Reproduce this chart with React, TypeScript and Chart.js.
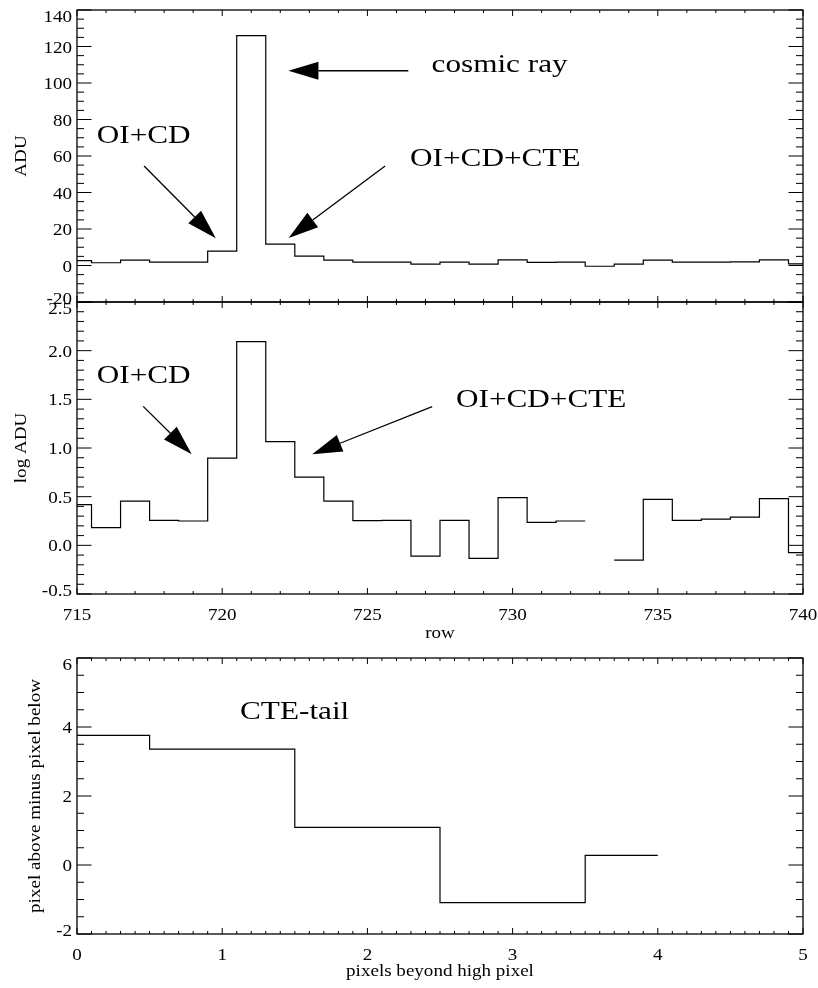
import React, { useEffect, useRef } from "react";
import { Chart, registerables } from "chart.js";

Chart.register(...registerables);

// ---------- data ----------
const rows = [715, 716, 717, 718, 719, 720, 721, 722, 723, 724, 725, 726, 727, 728, 729, 730, 731, 732, 733, 734, 735, 736, 737, 738, 739, 740];
const aduValues = [2.7, 1.5, 2.9, 1.8, 1.8, 7.9, 126, 11.7, 5.1, 2.9, 1.8, 1.8, 0.8, 1.8, 0.75, 3.1, 1.75, 1.8, -0.4, 0.72, 3.0, 1.84, 1.9, 2.0, 3.05, 0.84];
const logAduValues: (number | null)[] = [0.418, 0.182, 0.455, 0.257, 0.25, 0.897, 2.093, 1.065, 0.7, 0.455, 0.254, 0.257, -0.11, 0.257, -0.134, 0.49, 0.236, 0.25, null, -0.151, 0.473, 0.257, 0.27, 0.29, 0.48, -0.075];
const tailPixels = [0, 1, 2, 3, 4];
const tailDiffs = [3.76, 3.36, 1.09, -1.09, 0.28];

const rowTicks = [715, 720, 725, 730, 735, 740];
const rowTickLabels = ["715", "720", "725", "730", "735", "740"];
const aduTicks = [-20, 0, 20, 40, 60, 80, 100, 120, 140];
const aduTickLabels = ["-20", "0", "20", "40", "60", "80", "100", "120", "140"];
const logAduTicks = [-0.5, 0, 0.5, 1, 1.5, 2, 2.5];
const logAduTickLabels = ["-0.5", "0.0", "0.5", "1.0", "1.5", "2.0", "2.5"];
const tailXTicks = [0, 1, 2, 3, 4, 5];
const tailXTickLabels = ["0", "1", "2", "3", "4", "5"];
const tailYTicks = [-2, 0, 2, 4, 6];
const tailYTickLabels = ["-2", "0", "2", "4", "6"];

const FONT = '"Liberation Serif", "Times New Roman", Times, serif';
const STRETCH = 1.17;

type Pt = { x: number; y: number | null };

function stepPoints(xs: number[], ys: (number | null)[]): Pt[] {
  const half = (xs[1] - xs[0]) / 2;
  const lo = xs[0];
  const hi = xs[xs.length - 1];
  const pts: Pt[] = [];
  xs.forEach((x, i) => {
    const y = ys[i];
    if (y === null || y === undefined) {
      pts.push({ x, y: null });
      return;
    }
    pts.push({ x: Math.max(lo, x - half), y }, { x: Math.min(hi, x + half), y });
  });
  return pts;
}

function tickList(majors: number[], step: number, min: number, max: number) {
  const out: { v: number; major: boolean }[] = [];
  const n = Math.round((max - min) / step);
  for (let i = 0; i <= n; i++) {
    const v = min + i * step;
    out.push({ v, major: majors.some((m) => Math.abs(m - v) < step * 1e-3) });
  }
  return out;
}

function drawText(ctx: CanvasRenderingContext2D, text: string, x: number, y: number, size: number, align: CanvasTextAlign, rot = 0, sx = STRETCH) {
  ctx.save();
  ctx.translate(x, y);
  if (rot) ctx.rotate(rot);
  ctx.scale(sx, 1);
  ctx.font = `${size}px ${FONT}`;
  ctx.textAlign = align;
  ctx.textBaseline = "alphabetic";
  ctx.fillStyle = "#000";
  ctx.fillText(text, 0, 0);
  ctx.restore();
}

interface PanelSpec {
  canvasTop: number;
  canvasHeight: number;
  padding: { left: number; top: number; right: number; bottom: number };
  xMin: number; xMax: number; yMin: number; yMax: number;
  xMajor: number[]; xMinorStep: number; yMajor: number[]; yMinorStep: number;
  xLabels: string[] | null; yLabels: string[];
  xTitle: { text: string; baseline: number } | null;
  yTitle: { text: string; x: number };
  texts: { text: string; x: number; y: number }[];
  arrows: { from: [number, number]; to: [number, number] }[];
  data: Pt[];
}

function makePlugin(spec: PanelSpec) {
  return {
    id: "idlAxes",
    afterDatasetsDraw(chart: any) {
      const { ctx, chartArea: a, scales } = chart;
      const xs = scales.x;
      const ys = scales.y;
      ctx.save();
      ctx.strokeStyle = "#000";
      ctx.fillStyle = "#000";
      const seg = (x1: number, y1: number, x2: number, y2: number) => {
        ctx.beginPath();
        ctx.moveTo(x1, y1);
        ctx.lineTo(x2, y2);
        ctx.stroke();
      };
      // ticks
      ctx.lineWidth = 1;
      for (const t of tickList(spec.xMajor, spec.xMinorStep, spec.xMin, spec.xMax)) {
        const px = xs.getPixelForValue(t.v);
        const len = t.major ? 6 : 3;
        seg(px, a.bottom, px, a.bottom - len);
        seg(px, a.top, px, a.top + len);
      }
      for (const t of tickList(spec.yMajor, spec.yMinorStep, spec.yMin, spec.yMax)) {
        const py = ys.getPixelForValue(t.v);
        const len = t.major ? 14.5 : 7;
        seg(a.left, py, a.left + len, py);
        seg(a.right, py, a.right - len, py);
      }
      // frame
      ctx.lineWidth = 1.3;
      ctx.strokeRect(a.left, a.top, a.right - a.left, a.bottom - a.top);

      // y tick labels
      spec.yMajor.forEach((v, i) => {
        const py = ys.getPixelForValue(v);
        let off = 6;
        if (v === spec.yMax) off = 11.5;
        else if (v === spec.yMin) off = 1.5;
        drawText(ctx, spec.yLabels[i], a.left - 5, py + off, 16.3, "right");
      });
      // x tick labels
      if (spec.xLabels) {
        spec.xMajor.forEach((v, i) => {
          const px = xs.getPixelForValue(v);
          drawText(ctx, spec.xLabels![i], px, a.bottom + 25.7, 16.3, "center");
        });
      }
      // titles
      if (spec.xTitle) {
        drawText(ctx, spec.xTitle.text, (a.left + a.right) / 2, spec.xTitle.baseline, 16.3, "center");
      }
      drawText(ctx, spec.yTitle.text, spec.yTitle.x, (a.top + a.bottom) / 2, 16.3, "center", -Math.PI / 2);

      // annotations
      for (const t of spec.texts) {
        drawText(ctx, t.text, xs.getPixelForValue(t.x), ys.getPixelForValue(t.y), 26, "left", 0, 1.2);
      }
      for (const ar of spec.arrows) {
        const x1 = xs.getPixelForValue(ar.from[0]);
        const y1 = ys.getPixelForValue(ar.from[1]);
        const x2 = xs.getPixelForValue(ar.to[0]);
        const y2 = ys.getPixelForValue(ar.to[1]);
        const dx = x2 - x1;
        const dy = y2 - y1;
        const L = Math.hypot(dx, dy);
        const ux = dx / L;
        const uy = dy / L;
        const hl = 30;
        const hw = 9;
        const bx = x2 - ux * hl;
        const by = y2 - uy * hl;
        ctx.lineWidth = 1.3;
        seg(x1, y1, bx, by);
        ctx.beginPath();
        ctx.moveTo(x2, y2);
        ctx.lineTo(bx - uy * hw, by + ux * hw);
        ctx.lineTo(bx + uy * hw, by - ux * hw);
        ctx.closePath();
        ctx.fill();
      }
      ctx.restore();
    },
  };
}

const panels: PanelSpec[] = [
  {
    canvasTop: 0,
    canvasHeight: 330,
    padding: { left: 77, top: 10, right: 15, bottom: 28 },
    xMin: 715, xMax: 740, yMin: -20, yMax: 140,
    xMajor: rowTicks, xMinorStep: 1, yMajor: aduTicks, yMinorStep: 5,
    xLabels: null, yLabels: aduTickLabels,
    xTitle: null,
    yTitle: { text: "ADU", x: 26 },
    texts: [
      { text: "cosmic ray", x: 727.21, y: 106.2 },
      { text: "OI+CD", x: 715.68, y: 66.96 },
      { text: "OI+CD+CTE", x: 726.47, y: 54.7 },
    ],
    arrows: [
      { from: [726.41, 106.7], to: [722.28, 106.7] },
      { from: [717.31, 54.5], to: [719.78, 14.9] },
      { from: [725.61, 54.5], to: [722.29, 15.1] },
    ],
    data: stepPoints(rows, aduValues),
  },
  {
    canvasTop: 290,
    canvasHeight: 360,
    padding: { left: 77, top: 12, right: 15, bottom: 56 },
    xMin: 715, xMax: 740, yMin: -0.5, yMax: 2.5,
    xMajor: rowTicks, xMinorStep: 1, yMajor: logAduTicks, yMinorStep: 0.1,
    xLabels: rowTickLabels, yLabels: logAduTickLabels,
    xTitle: { text: "row", baseline: 638 - 290 },
    yTitle: { text: "log ADU", x: 26 },
    texts: [
      { text: "OI+CD", x: 715.68, y: 1.667 },
      { text: "OI+CD+CTE", x: 728.05, y: 1.421 },
    ],
    arrows: [
      { from: [717.28, 1.428], to: [718.95, 0.935] },
      { from: [727.23, 1.425], to: [723.1, 0.935] },
    ],
    data: stepPoints(rows, logAduValues),
  },
  {
    canvasTop: 640,
    canvasHeight: 348,
    padding: { left: 77, top: 18, right: 15, bottom: 54 },
    xMin: 0, xMax: 5, yMin: -2, yMax: 6,
    xMajor: tailXTicks, xMinorStep: 0.1, yMajor: tailYTicks, yMinorStep: 0.5,
    xLabels: tailXTickLabels, yLabels: tailYTickLabels,
    xTitle: { text: "pixels beyond high pixel", baseline: 976 - 640 },
    yTitle: { text: "pixel above minus pixel below", x: 40 },
    texts: [{ text: "CTE-tail", x: 1.123, y: 4.24 }],
    arrows: [],
    data: stepPoints(tailPixels, tailDiffs),
  },
];

export default function App() {
  const r0 = useRef<HTMLCanvasElement>(null);
  const r1 = useRef<HTMLCanvasElement>(null);
  const r2 = useRef<HTMLCanvasElement>(null);
  const refs = [r0, r1, r2];

  useEffect(() => {
    const charts = panels.map((spec, i) => {
      const canvas = refs[i].current!;
      return new Chart(canvas, {
        type: "line",
        data: {
          datasets: [
            {
              data: spec.data as any,
              borderColor: "#000",
              borderWidth: 1.2,
              pointRadius: 0,
              fill: false,
              tension: 0,
              spanGaps: false,
            },
          ],
        },
        options: {
          responsive: false,
          animation: false,
          events: [],
          layout: { padding: spec.padding },
          plugins: { legend: { display: false }, tooltip: { enabled: false } },
          scales: {
            x: { type: "linear", min: spec.xMin, max: spec.xMax, display: false },
            y: { type: "linear", min: spec.yMin, max: spec.yMax, display: false },
          },
        },
        plugins: [makePlugin(spec)],
      });
    });
    return () => charts.forEach((c) => c.destroy());
  }, []);

  return (
    <div style={{ position: "absolute", left: 0, top: 0, width: 818, height: 988, background: "#fff" }}>
      {panels.map((p, i) => (
        <canvas
          key={i}
          ref={refs[i]}
          width={818}
          height={p.canvasHeight}
          style={{ position: "absolute", left: 0, top: p.canvasTop, width: 818, height: p.canvasHeight }}
        />
      ))}
    </div>
  );
}
